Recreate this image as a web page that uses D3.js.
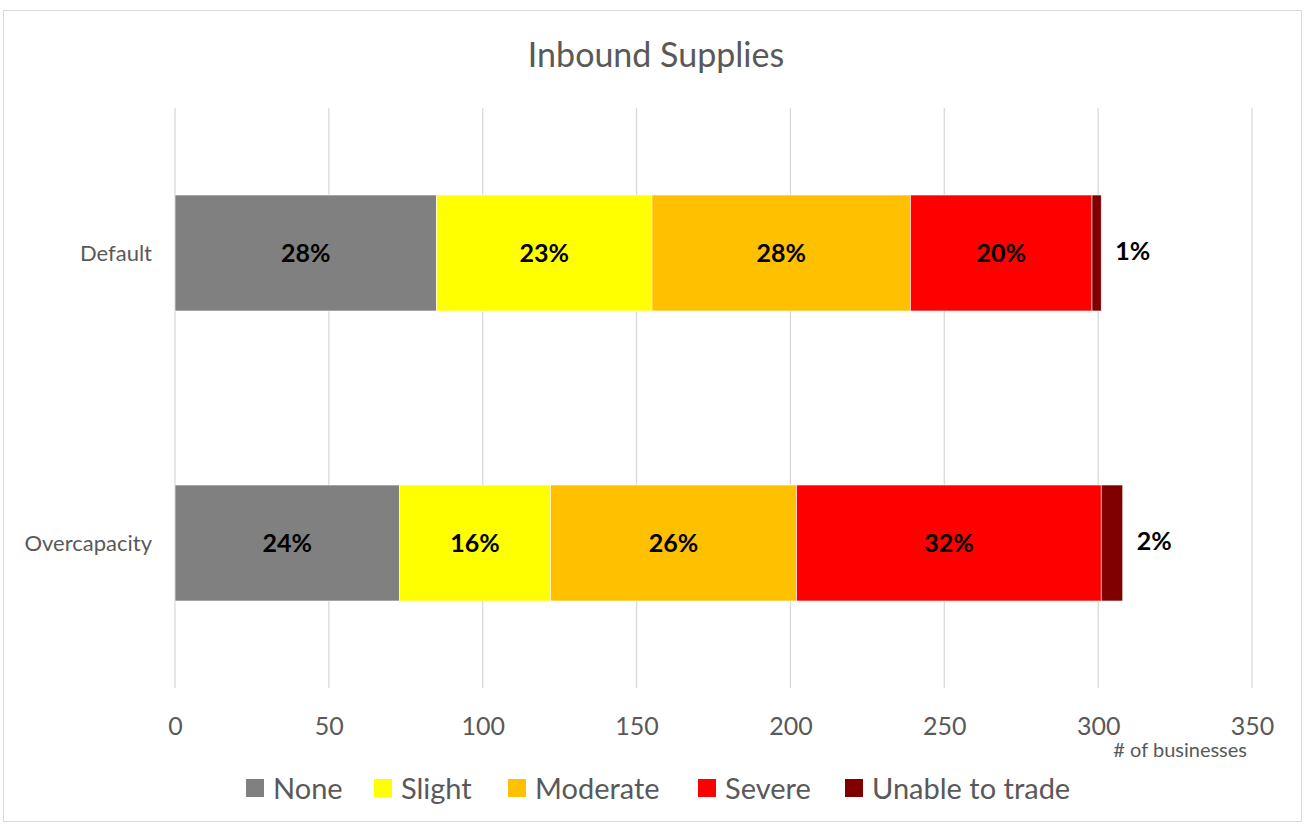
<!DOCTYPE html>
<html>
<head>
<meta charset="utf-8">
<script src="https://cdn.jsdelivr.net/npm/d3@7"></script>
<style>
  body { margin: 0; background: #fff; }
  svg { display: block; font-family: Lato, "Open Sans", sans-serif; }
</style>
</head>
<body>
<svg id="chart" width="1304" height="825"></svg>
<script>
// categories top to bottom
const categories = ["Default", "Overcapacity"];
const seriesNames = ["None", "Slight", "Moderate", "Severe", "Unable to trade"];
const seriesColors = ["#808080", "#ffff00", "#ffc000", "#ff0000", "#800000"];
// counts of businesses per category, in series order
const noneValues = [85, 73];
const slightValues = [70, 49];
const moderateValues = [84, 80];
const severeValues = [59, 99];
const unableValues = [3, 7];
const xTicks = [0, 50, 100, 150, 200, 250, 300, 350];

const svg = d3.select("#chart");
const W = 1304, H = 825;
const margin = { left: 175, right: 52, top: 108, bottom: 137 };

// chart frame
svg.append("rect")
  .attr("x", 3.5).attr("y", 10.5)
  .attr("width", W - 6).attr("height", H - 14)
  .attr("fill", "#fff").attr("stroke", "#d9d9d9").attr("stroke-width", 1);

svg.append("text")
  .attr("x", 656).attr("y", 67)
  .attr("text-anchor", "middle")
  .attr("font-size", 34).attr("fill", "#595959")
  .text("Inbound Supplies");

const x = d3.scaleLinear().domain([0, 350]).range([margin.left, W - margin.right]);
const y = d3.scaleBand().domain(categories)
  .range([margin.top, H - margin.bottom])
  .paddingInner(0.6).paddingOuter(0.3);

// gridlines
svg.append("g").selectAll("line").data(xTicks).join("line")
  .attr("x1", d => x(d)).attr("x2", d => x(d))
  .attr("y1", margin.top).attr("y2", H - margin.bottom)
  .attr("stroke", "#d9d9d9").attr("stroke-width", 1.3);

// x axis labels
const xAxis = svg.append("g")
  .attr("transform", `translate(0,${H - margin.bottom})`)
  .call(d3.axisBottom(x).tickValues(xTicks).tickSize(0).tickPadding(29));
xAxis.select(".domain").remove();
xAxis.selectAll("text")
  .attr("font-size", 25).attr("fill", "#595959")
  .attr("font-family", "Lato, 'Open Sans', sans-serif");

svg.append("text")
  .attr("x", 1247).attr("y", 757)
  .attr("text-anchor", "end")
  .attr("font-size", 20).attr("fill", "#595959")
  .text("# of businesses");

// category labels
svg.append("g").selectAll("text").data(categories).join("text")
  .attr("x", 152).attr("y", d => y(d) + y.bandwidth() / 2)
  .attr("dy", "0.35em").attr("text-anchor", "end")
  .attr("font-size", 22).attr("fill", "#595959")
  .text(d => d);

// stack
const rows = categories.map((c, i) => ({
  category: c,
  "None": noneValues[i],
  "Slight": slightValues[i],
  "Moderate": moderateValues[i],
  "Severe": severeValues[i],
  "Unable to trade": unableValues[i]
}));
const stacked = d3.stack().keys(seriesNames)(rows);
const color = d3.scaleOrdinal().domain(seriesNames).range(seriesColors);

const layers = svg.append("g").selectAll("g").data(stacked).join("g")
  .attr("fill", d => color(d.key));

layers.selectAll("rect").data(d => d).join("rect")
  .attr("x", d => x(d[0]))
  .attr("y", d => y(d.data.category))
  .attr("width", d => x(d[1]) - x(d[0]))
  .attr("height", y.bandwidth())
  .attr("stroke", "#fff").attr("stroke-width", 0.6);

// percentage labels
stacked.forEach(layer => {
  const outside = layer.key === "Unable to trade";
  layer.forEach(d => {
    const total = seriesNames.reduce((s, k) => s + d.data[k], 0);
    const pct = Math.round(100 * (d[1] - d[0]) / total) + "%";
    svg.append("text")
      .attr("x", outside ? x(d[1]) + 14 : (x(d[0]) + x(d[1])) / 2)
      .attr("y", y(d.data.category) + y.bandwidth() / 2 + (outside ? -2 : 0))
      .attr("dy", "0.35em")
      .attr("text-anchor", outside ? "start" : "middle")
      .attr("font-size", 25).attr("font-weight", "bold").attr("fill", "#000")
      .text(pct);
  });
});

// legend
const legend = svg.append("g").attr("transform", "translate(0,788)");
const legendX = [246, 374, 508, 698, 845];
seriesNames.forEach((name, i) => {
  const g = legend.append("g").attr("transform", `translate(${legendX[i]},0)`);
  g.append("rect").attr("x", 0).attr("y", -9).attr("width", 18).attr("height", 18)
    .attr("fill", seriesColors[i]);
  g.append("text").attr("x", 27).attr("y", 1).attr("dy", "0.35em")
    .attr("font-size", 29).attr("fill", "#595959").text(name);
});
</script>
</body>
</html>
